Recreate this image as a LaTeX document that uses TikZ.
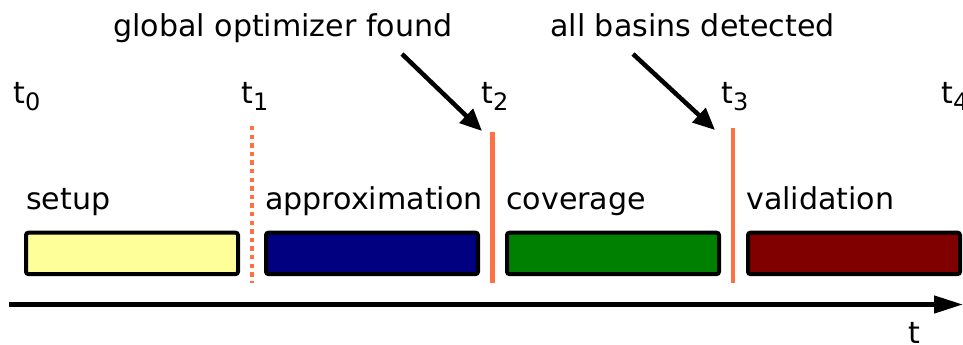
\documentclass[tikz,border=0pt]{standalone}
\usepackage{fontspec}
\setmainfont{DejaVu Sans}
\usetikzlibrary{arrows.meta}

\definecolor{marker}{RGB}{255,112,67}
\definecolor{setupfill}{RGB}{255,255,153}
\definecolor{approxfill}{RGB}{0,0,128}
\definecolor{coverfill}{RGB}{0,128,0}
\definecolor{validfill}{RGB}{128,0,0}

\tikzset{
  lbl/.style={anchor=base west, inner sep=0pt, font=\fontsize{30.1}{35}\selectfont},
  phase/.style={draw=black, line width=4pt, rounded corners=2.5pt,
                minimum width=212pt, minimum height=41.5pt, inner sep=0pt},
  milestone/.style={draw=marker, line width=4.5pt},
  pointer/.style={draw=black, line width=4.5pt, -{Triangle[length=22pt,width=19pt]}},
}
\newcommand{\tsub}[1]{t\raisebox{-7pt}{\fontsize{24}{24}\selectfont #1}}

\begin{document}
\begin{tikzpicture}[x=1pt, y=-1pt]
  \useasboundingbox (0,0) rectangle (963,345);

  % event annotations
  \node[lbl] (gof) at (113,37) {global optimizer found};
  \node[lbl] (abd) at (550,37) {all basins detected};

  % time stamps
  \node[lbl] (t0) at (13,103) {\tsub{0}};
  \node[lbl] (t1) at (241,103) {\tsub{1}};
  \node[lbl] (t2) at (481,103) {\tsub{2}};
  \node[lbl] (t3) at (721,103) {\tsub{3}};
  \node[lbl] (t4) at (941,103) {\tsub{4}};

  % phase names
  \node[lbl] (lsetup) at (26,209) {setup};
  \node[lbl] (lapprox) at (265,209) {approximation};
  \node[lbl] (lcover) at (506,209) {coverage};
  \node[lbl] (lvalid) at (746,209) {validation};

  % phase bars
  \node[phase, fill=setupfill]  (setup)  at (132,253.4) {};
  \node[phase, fill=approxfill] (approx) at (372,253.4) {};
  \node[phase, fill=coverfill]  (cover)  at (613,253.4) {};
  \node[phase, fill=validfill]  (valid)  at (854,253.4) {};

  % phase boundaries
  \coordinate (m1a) at (252,126); \coordinate (m1b) at (252,283);
  \coordinate (m2a) at (492.5,132); \coordinate (m2b) at (492.5,283);
  \coordinate (m3a) at (733,128); \coordinate (m3b) at (733,283);
  \draw[milestone, dash pattern=on 4.4pt off 4.2pt] (m1a) -- (m1b);
  \draw[milestone] (m2a) -- (m2b);
  \draw[milestone] (m3a) -- (m3b);

  % event pointers
  \coordinate (p1a) at (402,54); \coordinate (p1b) at (482,131);
  \coordinate (p2a) at (633,54); \coordinate (p2b) at (715,130);
  \draw[pointer] (p1a) -- (p1b);
  \draw[pointer] (p2a) -- (p2b);

  % time axis
  \coordinate (ax0) at (9,304.5); \coordinate (ax1) at (963,304.5);
  \draw[line width=4.5pt, -{Triangle[length=29pt,width=17pt]}] (ax0) -- (ax1);
  \node[lbl] (tlabel) at (908,343) {t};
\end{tikzpicture}
\end{document}
